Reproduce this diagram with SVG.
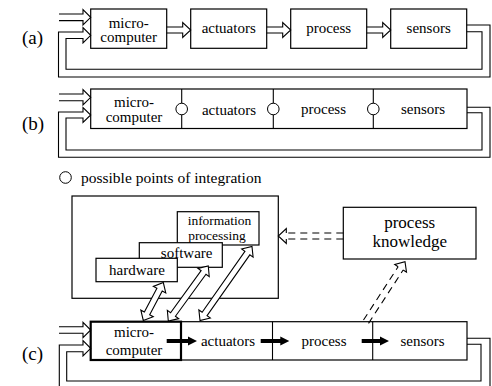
<svg xmlns="http://www.w3.org/2000/svg" width="492" height="386" viewBox="0 0 492 386">
<style>
text{font-family:"Liberation Serif","Times New Roman",serif;fill:#000;text-anchor:middle}
.bx{fill:#fff;stroke:#000;stroke-width:1.2}
.thick{fill:#fff;stroke:#000;stroke-width:2.2}
.lb{font-size:15px}
.sm{font-size:13.5px}
.pk{font-size:17px}
.tag{font-size:19px;text-anchor:start}
.leg{font-size:15.5px;text-anchor:start}
.ha{fill:#fff;stroke:#000;stroke-width:1.1;stroke-linejoin:miter}
.fb{fill:none;stroke:#000;stroke-width:1.1}
.dash{stroke:#000;stroke-width:1.1;stroke-dasharray:7 5;fill:none}
.solid{stroke:#000;stroke-width:1.1;fill:none}
.div{stroke:#000;stroke-width:1.1}
.pt{fill:#fff;stroke:#000;stroke-width:1}
.thk{fill:#000}
</style>

<!-- row labels -->
<text class="tag" x="22" y="44">(a)</text>
<text class="tag" x="22" y="130">(b)</text>
<text class="tag" x="22" y="360">(c)</text>

<!-- (a) nodes -->
<g id="a-microcomputer">
<rect class="bx" x="90.7" y="9" width="76" height="39.3"/>
<text class="lb" x="128.7" y="27.5">micro-</text>
<text class="lb" x="128.7" y="42">computer</text>
</g>
<g id="a-actuators">
<rect class="bx" x="190.7" y="9" width="76" height="39.3"/>
<text class="lb" x="228.7" y="33">actuators</text>
</g>
<g id="a-process">
<rect class="bx" x="290.7" y="9" width="76" height="39.3"/>
<text class="lb" x="328.7" y="33">process</text>
</g>
<g id="a-sensors">
<rect class="bx" x="390.7" y="9" width="76" height="39.3"/>
<text class="lb" x="428.7" y="33">sensors</text>
</g>

<!-- (b) node -->
<g id="b-chain">
<rect class="bx" x="90.7" y="89" width="376.3" height="39.5"/>
<line class="div" x1="181.7" y1="89" x2="181.7" y2="128.5"/>
<line class="div" x1="273.3" y1="89" x2="273.3" y2="128.5"/>
<line class="div" x1="373.3" y1="89" x2="373.3" y2="128.5"/>
<circle class="pt" cx="181.7" cy="109" r="5.8"/>
<circle class="pt" cx="273.3" cy="109" r="5.8"/>
<circle class="pt" cx="373.3" cy="109" r="5.8"/>
<text class="lb" x="134" y="106.5">micro-</text>
<text class="lb" x="134" y="122">computer</text>
<text class="lb" x="229" y="114.5">actuators</text>
<text class="lb" x="323.5" y="114">process</text>
<text class="lb" x="423" y="114">sensors</text>
</g>

<!-- legend -->
<g id="legend">
<circle class="pt" cx="65.5" cy="177.5" r="5.8"/>
<text class="leg" x="81" y="182.5">possible points of integration</text>
</g>

<!-- (c) upper group -->
<g id="c-system">
<rect class="bx" x="72" y="196" width="206.3" height="102.3"/>
</g>
<g id="c-information-processing">
<rect class="bx" x="177.3" y="211.7" width="81.7" height="33.3"/>
<text class="sm" x="219.5" y="225">information</text>
<text class="sm" x="217" y="240">processing</text>
</g>
<g id="c-software">
<rect class="bx" x="139.3" y="242.7" width="83" height="24.6"/>
<text class="lb" x="186.7" y="257.5">software</text>
</g>
<g id="c-hardware">
<rect class="bx" x="96" y="258.3" width="81.3" height="23.4"/>
<text class="lb" x="137" y="275">hardware</text>
</g>
<g id="c-process-knowledge">
<rect class="bx" x="343.3" y="207.3" width="132.7" height="51.7"/>
<text class="pk" x="409.7" y="227.5">process</text>
<text class="pk" x="409.7" y="246.5">knowledge</text>
</g>

<!-- (c) chain -->
<g id="c-chain">
<rect class="bx" x="90.7" y="321.7" width="376.3" height="38.3"/>
<line class="div" x1="272.5" y1="321.7" x2="272.5" y2="360"/>
<line class="div" x1="372.7" y1="321.7" x2="372.7" y2="360"/>
<text class="lb" x="228" y="345.5">actuators</text>
<text class="lb" x="324" y="345.5">process</text>
<text class="lb" x="422.5" y="345.5">sensors</text>
</g>
<g id="c-microcomputer">
<rect class="thick" x="90.7" y="321.7" width="90.3" height="38.3"/>
<text class="lb" x="134" y="337">micro-</text>
<text class="lb" x="134" y="355">computer</text>
</g>

<!-- connectors -->
<g id="connectors">
<!-- (a) -->
<path class="fb" d="M59,14 H83 V9.5 L90.7,17.3 L83,25 V20.6 H59"/>
<path class="fb" d="M166.7,27 H182.7 V22.5 L190.7,30 L182.7,37.5 V33 H166.7"/>
<path class="fb" d="M266.7,27 H282.7 V22.5 L290.7,30 L282.7,37.5 V33 H266.7"/>
<path class="fb" d="M366.7,27 H382.7 V22.5 L390.7,30 L382.7,37.5 V33 H366.7"/>
<path class="fb" d="M466.7,25 H490 V77 H58.5 V32 H83 V27.5 L90.7,35.3 L83,43 V38.5 H66 V69.3 H482 V31.7 H466.7"/>
<!-- (b) -->
<path class="fb" d="M59,94 H83 V89.5 L90.7,97.3 L83,105 V100.7 H59"/>
<path class="fb" d="M467,107.3 H490 V157.3 H58.5 V112 H83 V107.5 L90.7,115 L83,122.5 V118 H66 V150 H482 V112.7 H467"/>
<!-- (c) -->
<path class="fb" d="M59,326.7 H83 V322.3 L90.7,330 L83,337.7 V333.3 H59"/>
<path class="fb" d="M467,338.3 H490 V390 M59.3,390 V345 H83 V340.6 L90.7,348.3 L83,356 V351.7 H66.7 V381 H481 V344.3 H467"/>
<path class="thk" d="M166.7,339 H188 V336.5 L197,341 L188,345.5 V343 H166.7 Z"/>
<path class="thk" d="M260.7,339 H280.3 V336.5 L289.3,341 L280.3,345.5 V343 H260.7 Z"/>
<path class="thk" d="M361.7,339 H380 V336.5 L389,341 L380,345.5 V343 H361.7 Z"/>
<!-- bidirectional hollow arrows -->
<path class="ha" transform="translate(143.3,320.5) rotate(-62.2)" d="M0,0 L8,-7 V-3 H34.9 V-7 L42.9,0 L34.9,7 V3 H8 V7 Z"/>
<path class="ha" transform="translate(168.3,321) rotate(-54)" d="M0,0 L8,-7 V-3 H60 V-7 L68,0 L60,7 V3 H8 V7 Z"/>
<path class="ha" transform="translate(200,320.5) rotate(-54.9)" d="M0,0 L8,-7 V-3 H82.4 V-7 L90.4,0 L82.4,7 V3 H8 V7 Z"/>
<!-- dashed arrows -->
<line class="dash" x1="343.3" y1="233" x2="286.3" y2="233"/>
<line class="dash" x1="343.3" y1="239" x2="286.3" y2="239"/>
<path class="solid" d="M286.3,233 V228.5 L278.3,236 L286.3,243.5 V239"/>
<g transform="translate(366,321.7) rotate(-57)">
<line class="dash" x1="0" y1="-3" x2="63.6" y2="-3"/>
<line class="dash" x1="0" y1="3" x2="63.6" y2="3"/>
<path class="solid" d="M63.6,-3 V-7 L71.6,0 L63.6,7 V3"/>
</g>
</g>
</svg>
